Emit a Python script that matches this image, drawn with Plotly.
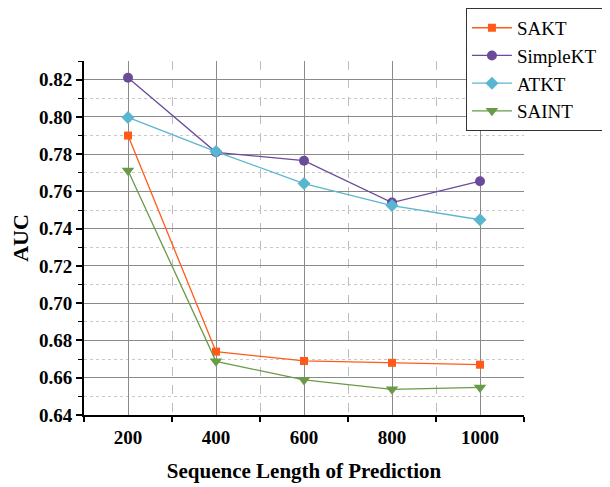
import plotly.graph_objects as go

seq_len = [200, 400, 600, 800, 1000]
sakt = [0.790, 0.674, 0.669, 0.668, 0.667]
simplekt = [0.821, 0.781, 0.7765, 0.754, 0.7655]
atkt = [0.7997, 0.7814, 0.7642, 0.7524, 0.7448]
saint = [0.7712, 0.6688, 0.6588, 0.6538, 0.6548]

series = [
    ("SAKT", sakt, "#ff5a1a", "square", 8),
    ("SimpleKT", simplekt, "#6a4b9a", "circle", 10),
    ("ATKT", atkt, "#5ab6d0", "diamond", 10),
    ("SAINT", saint, "#6a9a48", "triangle-down", 11),
]

FONT = "Liberation Serif"

fig = go.Figure()
for name, vals, color, sym, size in series:
    fig.add_trace(go.Scatter(
        x=seq_len, y=vals, name=name, mode="lines+markers",
        line=dict(color=color, width=1.3),
        marker=dict(symbol=sym, size=size, color=color, line=dict(width=0)),
    ))

fig.update_layout(
    width=602, height=479,
    margin=dict(l=76, r=86, t=53, b=72, autoexpand=False),
    plot_bgcolor="white", paper_bgcolor="white",
    font=dict(family=FONT, color="black"),
    showlegend=True,
    legend=dict(
        x=0.868, y=1.15, xanchor="left", yanchor="top",
        bgcolor="white", bordercolor="#333333", borderwidth=1,
        font=dict(family=FONT, size=19, color="black"),
        tracegroupgap=0, itemwidth=40,
    ),
    xaxis=dict(
        range=[100, 1100], tickvals=seq_len, ticktext=[str(v) for v in seq_len],
        ticks="", showline=True, linecolor="black", linewidth=2,
        showgrid=True, gridcolor="#8a8a8a", gridwidth=1, zeroline=False,
        ticklabelstandoff=4,
        tickfont=dict(family=FONT, size=19, color="black", weight="bold"),
        minor=dict(tick0=100, dtick=200, ticks="outside", ticklen=5, tickcolor="black",
                   tickwidth=1.5, showgrid=True, gridcolor="#bdbdbd", griddash="dash", gridwidth=1),
        title=dict(text="<b>Sequence Length of Prediction</b>", font=dict(family=FONT, size=21, color="black"), standoff=17),
    ),
    yaxis=dict(
        range=[0.64, 0.83], tick0=0.64, dtick=0.02, tickformat=".2f",
        ticks="outside", ticklen=6, tickcolor="black", tickwidth=1.5,
        showline=True, linecolor="black", linewidth=2,
        showgrid=True, gridcolor="#8a8a8a", gridwidth=1, zeroline=False,
        tickfont=dict(family=FONT, size=19, color="black", weight="bold"),
        minor=dict(tick0=0.65, dtick=0.02, ticks="outside", ticklen=4, tickcolor="black",
                   tickwidth=1, showgrid=True, gridcolor="#c8c8c8", griddash="dot", gridwidth=1),
        title=dict(text="<b>AUC</b>", font=dict(family=FONT, size=22, color="black"), standoff=12),
    ),
)

fig.write_html("out.html")
